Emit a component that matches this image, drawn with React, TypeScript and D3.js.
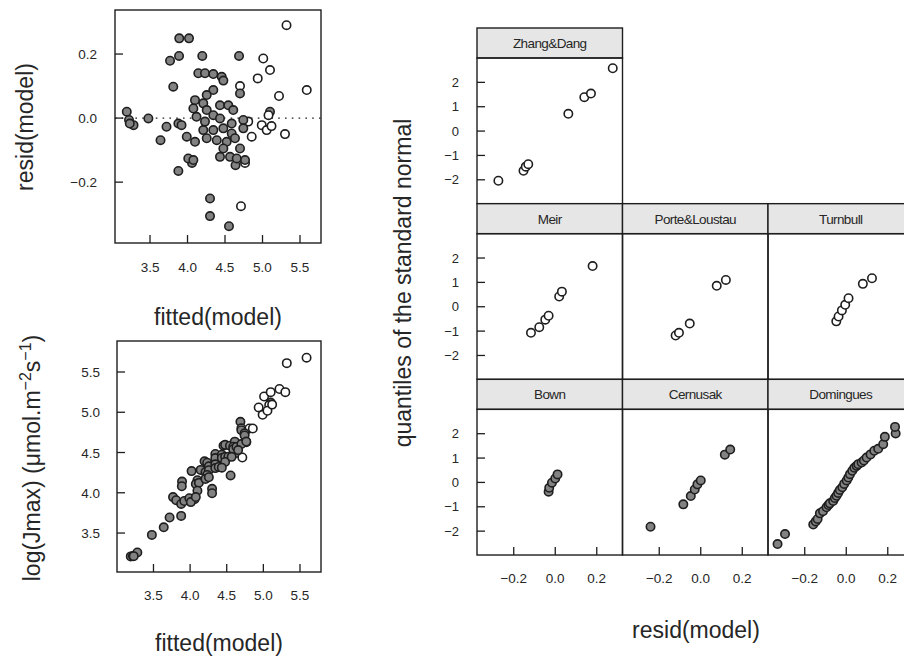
import React from "react";
import * as d3 from "d3";

// Model diagnostics: fitted values and residuals (log scale), with study of origin
const fitted = [
  3.89, 4.02, 3.887, 3.767, 4.197, 3.81, 3.19, 3.22, 3.28, 3.23, 3.478, 3.72, 3.878, 3.92, 3.64,
  4.06, 3.878, 4.3, 4.3, 5.32, 4.687, 5.01, 5.1, 4.936, 5.59, 5.22, 4.7, 5.1, 5.08, 4.81,
  4.99, 5.056, 5.12, 5.3, 4.856, 4.767, 4.64, 4.713, 4.553,
  4.144, 4.233, 4.344, 4.456, 4.478, 4.7, 4.344, 4.256, 4.1, 4.078, 4.21, 4.256, 4.433, 4.544,
  4.61, 4.12, 4.233, 4.344, 4.433, 4.589, 4.744, 4.21, 4.344, 4.478, 4.589, 4.744, 3.99, 4.1,
  4.256, 4.39, 4.522, 4.633, 4.478, 4.7, 4.433, 4.567, 4.01, 4.078, 4.656, 4.767,
];
const resid = [
  0.249, 0.249, 0.194, 0.179, 0.194, 0.098, 0.02, -0.006, -0.022, -0.017, -0.001, -0.027, -0.017, -0.022, -0.069,
  -0.14, -0.165, -0.251, -0.306, 0.29, 0.194, 0.186, 0.15, 0.124, 0.0875, 0.069, 0.1, 0.02, 0.009, -0.011,
  -0.022, -0.0375, -0.025, -0.05, -0.058, -0.14, -0.147, -0.275, -0.3375,
  0.14, 0.14, 0.1375, 0.129, 0.117, 0.077, 0.0875, 0.072, 0.056, 0.03, 0.046, 0.025, 0.04, 0.04,
  0.025, 0.004, -0.011, 0.009, -0.001, -0.017, -0.006, -0.0375, -0.0375, -0.032, -0.048, -0.032, -0.058, -0.074,
  -0.063, -0.069, -0.074, -0.063, -0.095, -0.095, -0.121, -0.121, -0.126, -0.131, -0.126, -0.131,
];
const B = "Bown", C = "Cernusak", D = "Domingues", Z = "Zhang&Dang", M = "Meir", P = "Porte&Loustau", T = "Turnbull";
const study = [
  D, D, D, D, D, D, B, B, B, B, C, C, C, C, C,
  D, D, C, C, Z, D, M, Z, T, P, Z, T, D, T, T,
  T, M, T, P, M, Z, D, Z, C,
  D, D, D, D, D, D, D, D, D, D, D, D, D, D,
  D, D, D, D, D, D, D, D, D, D, D, D, D, D,
  D, D, D, D, D, D, D, D, D, D, D, D,
];
// studies drawn with open symbols
const openStudies = [Z, M, P, T];

// Normal QQ data by study: [residual, standard normal quantile]
const zhangDang = [[-0.274, -2.04], [-0.153, -1.63], [-0.142, -1.46], [-0.13, -1.36], [0.063, 0.71], [0.14, 1.39], [0.172, 1.54], [0.277, 2.58]];
const meir = [[-0.117, -1.07], [-0.077, -0.84], [-0.048, -0.53], [-0.032, -0.37], [0.019, 0.42], [0.032, 0.62], [0.18, 1.67]];
const porteLoustau = [[-0.121, -1.18], [-0.105, -1.07], [-0.053, -0.69], [0.077, 0.86], [0.121, 1.1]];
const turnbull = [[-0.048, -0.6], [-0.037, -0.4], [-0.021, -0.15], [-0.005, 0.08], [0.011, 0.35], [0.08, 0.94], [0.124, 1.17]];
const bown = [[-0.032, -0.38], [-0.029, -0.22], [-0.016, -0.01], [0.0, 0.16], [0.011, 0.33]];
const cernusak = [[-0.242, -1.82], [-0.084, -0.9], [-0.048, -0.56], [-0.029, -0.29], [-0.016, -0.08], [0.0, 0.08], [0.116, 1.14], [0.142, 1.35]];
const domingues = [
  [-0.331, -2.53], [-0.295, -2.12], [-0.159, -1.73], [-0.147, -1.6], [-0.138, -1.5], [-0.127, -1.27], [-0.112, -1.18],
  [-0.095, -1.02], [-0.086, -0.93], [-0.079, -0.86], [-0.063, -0.76], [-0.055, -0.64], [-0.047, -0.55], [-0.039, -0.43],
  [-0.031, -0.31], [-0.019, -0.2], [-0.01, -0.06], [0.002, 0.08], [0.01, 0.2], [0.018, 0.34], [0.029, 0.48], [0.039, 0.6],
  [0.05, 0.68], [0.058, 0.75], [0.074, 0.82], [0.085, 0.9], [0.098, 1.02], [0.117, 1.15], [0.135, 1.3], [0.154, 1.38],
  [0.178, 1.57], [0.186, 1.87], [0.238, 2.01], [0.235, 2.28],
];

const fittedTicks = [3.5, 4.0, 4.5, 5.0, 5.5];
const residTicks = [-0.2, 0.0, 0.2];
const logJTicks = [3.5, 4.0, 4.5, 5.0, 5.5];
const qqXTicks = [-0.2, 0.0, 0.2];
const qqYTicks = [-2, -1, 0, 1, 2];

const FONT = "'Liberation Sans', Arial, Helvetica, sans-serif";
const INK = "#1e1e1e";
const FILL = "#828282";
const fmt1 = d3.format(".1f");
const fmt0 = d3.format("d");

function Dot({ cx, cy, open }: { cx: number; cy: number; open: boolean }) {
  return <circle cx={cx} cy={cy} r={4.2} fill={open ? "#ffffff" : FILL} stroke={INK} strokeWidth={1.6} />;
}

function ResidPlot() {
  const x = d3.scaleLinear().domain([3.033, 5.78]).range([115, 321]);
  const y = d3.scaleLinear().domain([-0.39, 0.3375]).range([243, 10]);
  return (
    <g>
      <line x1={x.range()[0]} x2={x.range()[1]} y1={y(0)} y2={y(0)} stroke={INK} strokeWidth={1.4} strokeDasharray="1.6,5.2" />
      {fitted.map((f, i) => (
        <Dot key={i} cx={x(f)} cy={y(resid[i])} open={openStudies.includes(study[i])} />
      ))}
      <rect x={115} y={10} width={206} height={233} fill="none" stroke={INK} strokeWidth={1.4} />
      {fittedTicks.map((t) => (
        <g key={t}>
          <line x1={x(t)} x2={x(t)} y1={243} y2={235} stroke={INK} strokeWidth={1.3} />
          <text x={x(t)} y={272} textAnchor="middle" fontSize={13.5}>{fmt1(t)}</text>
        </g>
      ))}
      {residTicks.map((t) => (
        <g key={t}>
          <line x1={115} x2={123} y1={y(t)} y2={y(t)} stroke={INK} strokeWidth={1.3} />
          <text x={97} y={y(t) + 5} textAnchor="end" fontSize={13.5}>{fmt1(t)}</text>
        </g>
      ))}
      <text x={218} y={325} textAnchor="middle" fontSize={23}>fitted(model)</text>
      <text transform="translate(33,127) rotate(-90)" textAnchor="middle" fontSize={23}>resid(model)</text>
    </g>
  );
}

function ObservedPlot() {
  const x = d3.scaleLinear().domain([3.002, 5.787]).range([117, 321]);
  const y = d3.scaleLinear().domain([3.016, 5.885]).range([572, 341]);
  return (
    <g>
      {fitted.map((f, i) => (
        <Dot key={i} cx={x(f)} cy={y(f + resid[i])} open={openStudies.includes(study[i])} />
      ))}
      <rect x={117} y={341} width={204} height={231} fill="none" stroke={INK} strokeWidth={1.4} />
      {fittedTicks.map((t) => (
        <g key={t}>
          <line x1={x(t)} x2={x(t)} y1={572} y2={564} stroke={INK} strokeWidth={1.3} />
          <text x={x(t)} y={600} textAnchor="middle" fontSize={13.5}>{fmt1(t)}</text>
        </g>
      ))}
      {logJTicks.map((t) => (
        <g key={t}>
          <line x1={117} x2={125} y1={y(t)} y2={y(t)} stroke={INK} strokeWidth={1.3} />
          <text x={100} y={y(t) + 5} textAnchor="end" fontSize={13.5}>{fmt1(t)}</text>
        </g>
      ))}
      <text x={219} y={651} textAnchor="middle" fontSize={23}>fitted(model)</text>
      <text transform="translate(40,458) rotate(-90)" textAnchor="middle" fontSize={23}>
        log(Jmax) (μmol.m<tspan dy={-9} fontSize={16}>−2</tspan>
        <tspan dy={9}>s</tspan>
        <tspan dy={-9} fontSize={16}>−1</tspan>
        <tspan dy={9}>)</tspan>
      </text>
    </g>
  );
}

const panels = [
  { name: Z, data: zhangDang, row: 0, col: 0 },
  { name: M, data: meir, row: 1, col: 0 },
  { name: P, data: porteLoustau, row: 1, col: 1 },
  { name: T, data: turnbull, row: 1, col: 2 },
  { name: B, data: bown, row: 2, col: 0 },
  { name: C, data: cernusak, row: 2, col: 1 },
  { name: D, data: domingues, row: 2, col: 2 },
];

function QQLattice() {
  const left = 477, top = 28, colW = 145.5, rowH = 175.67, stripH = 30;
  return (
    <g>
      {panels.map((p) => {
        const x0 = left + p.col * colW;
        const s0 = top + p.row * rowH;
        const py0 = s0 + stripH;
        const py1 = s0 + rowH;
        const x = d3.scaleLinear().domain([-0.377, 0.324]).range([x0, x0 + colW]);
        const y = d3.scaleLinear().domain([-2.98, 3.0]).range([py1, py0]);
        const open = openStudies.includes(p.name);
        return (
          <g key={p.name}>
            <rect x={x0} y={s0} width={colW} height={stripH} fill="#e6e6e6" stroke={INK} strokeWidth={1.4} />
            <text x={x0 + colW / 2} y={s0 + 20} textAnchor="middle" fontSize={13.5} letterSpacing={-0.6}>{p.name}</text>
            {p.data.map((d, i) => (
              <Dot key={i} cx={x(d[0])} cy={y(d[1])} open={open} />
            ))}
            <rect x={x0} y={py0} width={colW} height={py1 - py0} fill="none" stroke={INK} strokeWidth={1.4} />
            {p.col === 0 &&
              qqYTicks.map((t) => (
                <g key={t}>
                  <line x1={x0} x2={x0 + 8} y1={y(t)} y2={y(t)} stroke={INK} strokeWidth={1.3} />
                  <text x={459} y={y(t) + 4.5} textAnchor="end" fontSize={13}>{fmt0(t)}</text>
                </g>
              ))}
            {p.row === 2 &&
              qqXTicks.map((t) => (
                <g key={t}>
                  <line x1={x(t)} x2={x(t)} y1={py1} y2={py1 - 8} stroke={INK} strokeWidth={1.3} />
                  <text x={x(t)} y={583} textAnchor="middle" fontSize={13.5}>{fmt1(t)}</text>
                </g>
              ))}
          </g>
        );
      })}
      <text x={696} y={638} textAnchor="middle" fontSize={23}>resid(model)</text>
      <text transform="translate(411,283) rotate(-90)" textAnchor="middle" fontSize={23}>quantiles of the standard normal</text>
    </g>
  );
}

export default function App() {
  return (
    <svg
      width={904}
      height={660}
      style={{ position: "absolute", left: 0, top: 0, background: "#ffffff" }}
      fontFamily={FONT}
      fill="#262626"
    >
      <rect width={904} height={660} fill="#ffffff" />
      <ResidPlot />
      <ObservedPlot />
      <QQLattice />
    </svg>
  );
}
